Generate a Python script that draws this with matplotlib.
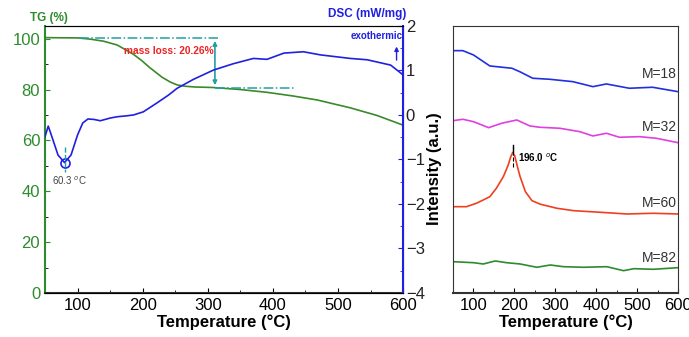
import numpy as np
import matplotlib
matplotlib.use('Agg')
import matplotlib.pyplot as plt
from matplotlib.ticker import MultipleLocator

plt.rcParams['font.family'] = ['Liberation Sans', 'DejaVu Sans']

# TG / DSC (left panel)
tg_t = [50, 100, 120, 140, 161, 185, 198, 211, 220, 230, 242, 253, 265, 280, 308, 350, 391, 430, 468, 519, 560, 600]
tg_v = [100.4, 100.3, 99.8, 99.0, 97.5, 94.0, 91.5, 88.6, 86.8, 84.8, 83.0, 81.8, 81.3, 81.0, 80.8, 80.0, 78.9,
        77.5, 75.9, 72.8, 69.8, 66.0]

dsc_t = [50, 55, 62, 70, 80, 90, 100, 108, 116, 125, 135, 150, 161, 175, 186, 201, 222, 240, 253,
         278, 309, 339, 370, 391, 417, 447, 473, 519, 545, 581, 600]
dsc_v = [-0.49, -0.25, -0.55, -0.90, -1.07, -0.90, -0.45, -0.18, -0.09, -0.10, -0.13, -0.07, -0.04,
         -0.02, 0.00, 0.07, 0.27, 0.45, 0.60, 0.80, 1.01, 1.15, 1.27, 1.25, 1.39, 1.42, 1.35, 1.27,
         1.24, 1.12, 0.90]

# XRD-like curves (right panel)
t18 = [50, 74, 100, 140, 194, 213, 245, 286, 343, 392, 425, 481, 538, 600]
v18 = [242.3, 242.3, 238, 227, 224.7, 221.3, 214.7, 213.7, 211.3, 206.3, 209, 204.7, 205.7, 201.3]
t32 = [50, 74, 100, 137, 169, 206, 238, 262, 311, 360, 392, 425, 457, 506, 547, 600]
v32 = [172.3, 173.7, 171.3, 165.3, 169.7, 173, 167, 165.7, 164.7, 161.3, 157, 159.7, 155.7, 156.3, 154.7, 150.3]
t60 = [50, 83, 107, 124, 140, 156, 173, 185, 191, 196, 201, 207, 214, 227, 243, 264, 304, 345, 410, 475, 540, 600]
v60 = [86.3, 86.3, 89.7, 93, 96.3, 104.7, 116.3, 128, 136, 140.5, 137, 127, 116.3, 101.3, 92.3, 88.7, 84.7,
       82.3, 80.7, 79, 79.7, 79]
t82 = [50, 100, 124, 153, 181, 214, 255, 288, 320, 369, 426, 467, 492, 540, 600]
v82 = [31.3, 30.3, 29, 32, 30.3, 29, 25.7, 28, 26.3, 25.7, 26.3, 22.3, 24.3, 23.7, 25.3]

labels = ['M=18', 'M=32', 'M=60', 'M=82']

green = '#2e8b2e'
blue = '#2020e0'
teal = '#20a0a0'

fig = plt.figure(figsize=(6.89, 3.37), dpi=100)
ax = fig.add_axes([0.0653, 0.1306, 0.5197, 0.7924])
ax.plot(tg_t, tg_v, color='#3a8a2a', lw=1.2)
ax.set_xlim(50, 600)
ax.set_ylim(0, 105)
ax.xaxis.set_major_locator(MultipleLocator(100))
ax.xaxis.set_minor_locator(MultipleLocator(50))
ax.yaxis.set_major_locator(MultipleLocator(20))
ax.yaxis.set_minor_locator(MultipleLocator(10))
ax.tick_params(axis='both', which='both', direction='in', labelsize=12)
ax.tick_params(axis='y', colors=green, labelcolor=green)
ax.tick_params(axis='x', top=False)
ax.spines['left'].set_color(green)
ax.spines['left'].set_linewidth(1.5)
ax.spines['top'].set_color('#333333')
ax.spines['bottom'].set_color('#333333')
ax.spines['bottom'].set_linewidth(1.5)
ax.set_xlabel('Temperature (°C)', fontsize=12, fontweight='bold', labelpad=1)

# mass loss annotations
ax.plot([102, 316], [100.2, 100.2], color=teal, lw=1.1, ls='-.')
ax.plot([311, 435], [80.6, 80.6], color=teal, lw=1.1, ls='-.')
ax.annotate('', xy=(311, 80.6), xytext=(311, 100.2),
            arrowprops=dict(arrowstyle='<|-|>', color=teal, lw=1.2, mutation_scale=6))
ax.text(309, 95.3, 'mass loss: 20.26%', color='#ee2020', fontsize=7.3, fontweight='bold',
        ha='right', va='center')
ax.text(-0.042, 1.008, 'TG (%)', transform=ax.transAxes, color=green, fontsize=8.5,
        fontweight='bold', ha='left', va='bottom')

ax2 = ax.twinx()
ax2.plot(dsc_t, dsc_v, color=blue, lw=1.2)
ax2.set_ylim(-4, 2)
ax2.yaxis.set_major_locator(MultipleLocator(1))
ax2.yaxis.set_minor_locator(MultipleLocator(0.5))
ax2.tick_params(axis='y', which='both', direction='in', labelsize=12, colors=blue,
                labelcolor='#222222', pad=2)
ax2.spines['right'].set_color(blue)
ax2.spines['right'].set_linewidth(1.5)
ax2.spines['left'].set_visible(False)
ax2.plot([80], [-1.07], marker='o', ms=6.5, mfc='none', mec=blue, mew=1.2)
ax2.plot([80, 80], [-0.72, -1.28], color=teal, lw=1, ls='--')
ax2.text(61, -1.35, '60.3 $^{o}$C', fontsize=7, color='#444444', ha='left', va='top')
ax2.text(1.01, 1.022, 'DSC (mW/mg)', transform=ax2.transAxes, color=blue, fontsize=8.5,
         fontweight='bold', ha='right', va='bottom')
ax2.text(599, 1.78, 'exothermic', color=blue, fontsize=7, fontweight='bold', ha='right', va='center')
ax2.annotate('', xy=(590, 1.6), xytext=(590, 1.17),
             arrowprops=dict(arrowstyle='-|>', color=blue, lw=1, mutation_scale=6))

# right panel
bx = fig.add_axes([0.6575, 0.1306, 0.3265, 0.7924])
curves = [(t18, v18, '#2030e0'), (t32, v32, '#e040e0'), (t60, v60, '#ee4020'), (t82, v82, '#2e8b2e')]
label_y = [219, 166, 90, 35]
for (t, v, c), lab, ly in zip(curves, labels, label_y):
    bx.plot(t, v, color=c, lw=1.2)
    bx.text(598, ly, lab, fontsize=10, color='#333333', ha='right', va='center')
bx.set_xlim(50, 600)
bx.set_ylim(0, 267)
bx.set_yticks([])
bx.xaxis.set_major_locator(MultipleLocator(100))
bx.xaxis.set_minor_locator(MultipleLocator(50))
bx.tick_params(axis='x', which='both', direction='in', labelsize=12)
for s in bx.spines.values():
    s.set_color('#333333')
bx.spines['bottom'].set_linewidth(1.5)
bx.set_xlabel('Temperature (°C)', fontsize=12, fontweight='bold', labelpad=1)
bx.plot([196, 196], [126, 147], color='black', lw=0.8, ls='--')
bx.plot([196, 196], [141, 148], color='black', lw=1)
bx.text(210, 135, '196.0 $^{o}$C', fontsize=7, fontweight='bold', ha='left', va='center')

fig.text(0.631, 0.50, 'Intensity (a.u.)', rotation=90, fontsize=12, fontweight='bold',
         ha='center', va='center')

fig.savefig('out.png', dpi=100)
